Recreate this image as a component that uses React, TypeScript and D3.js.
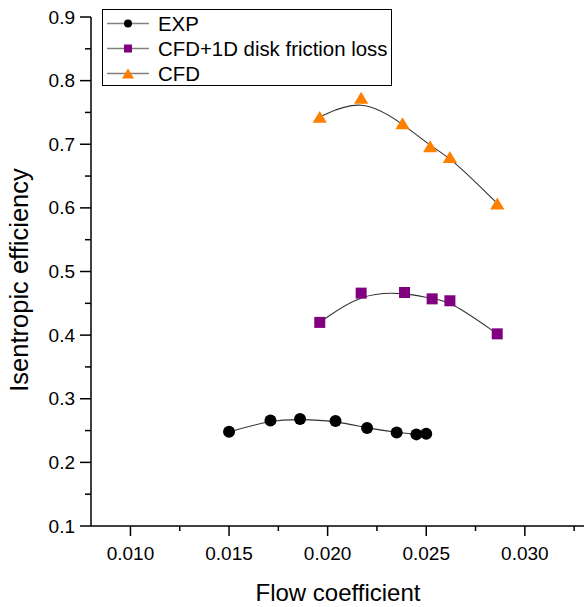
import React, { useEffect, useRef } from 'react';
import * as d3 from 'd3';

// flow coefficient / isentropic efficiency
const expFlow = [0.0150, 0.0171, 0.0186, 0.0204, 0.0220, 0.0235, 0.0245, 0.0250];
const expEff = [0.248, 0.266, 0.268, 0.265, 0.254, 0.247, 0.244, 0.245];
const cfdDiskFlow = [0.0196, 0.0217, 0.0239, 0.0253, 0.0262, 0.0286];
const cfdDiskEff = [0.420, 0.466, 0.467, 0.457, 0.454, 0.402];
const cfdFlow = [0.0196, 0.0217, 0.0238, 0.0252, 0.0262, 0.0286];
const cfdEff = [0.743, 0.773, 0.733, 0.697, 0.680, 0.607];

const seriesNames = ['EXP', 'CFD+1D disk friction loss', 'CFD'];
const xTicks = [0.010, 0.015, 0.020, 0.025, 0.030];
const yTicks = [0.1, 0.2, 0.3, 0.4, 0.5, 0.6, 0.7, 0.8, 0.9];

const W = 584;
const H = 607;
const FONT = "'Liberation Sans', Arial, sans-serif";

export default function App() {
  const svgRef = useRef<SVGSVGElement>(null);

  useEffect(() => {
    const svg = d3.select(svgRef.current);
    svg.selectAll('*').remove();

    const x = d3.scaleLinear().domain([0.008, 0.033]).range([91, 584]);
    const y = d3.scaleLinear().domain([0.1, 0.9]).range([526, 17]);

    const series = [
      { name: seriesNames[0], xs: expFlow, ys: expEff, shape: 'circle', color: '#000000' },
      { name: seriesNames[1], xs: cfdDiskFlow, ys: cfdDiskEff, shape: 'square', color: '#800080' },
      { name: seriesNames[2], xs: cfdFlow, ys: cfdEff, shape: 'triangle', color: '#FF8000' },
    ];

    function marker(g, shape, color, cx, cy, s) {
      if (shape === 'circle') {
        g.append('circle').attr('cx', cx).attr('cy', cy).attr('r', s / 2).attr('fill', color);
      } else if (shape === 'square') {
        g.append('rect').attr('x', cx - s / 2).attr('y', cy - s / 2)
          .attr('width', s).attr('height', s).attr('fill', color);
      } else {
        const hw = s * 0.55, hh = s * 0.46;
        g.append('path')
          .attr('d', `M${cx},${cy - hh}L${cx + hw},${cy + hh}L${cx - hw},${cy + hh}Z`)
          .attr('fill', color);
      }
    }

    // axes
    const xAxis = svg.append('g').attr('transform', `translate(0,${y(0.1)})`);
    xAxis.append('line').attr('x1', x(0.008)).attr('x2', x(0.033)).attr('stroke', '#000').attr('stroke-width', 1.5);
    xAxis.selectAll('.major').data(xTicks).join('line')
      .attr('x1', d => x(d)).attr('x2', d => x(d)).attr('y1', 0).attr('y2', 10)
      .attr('stroke', '#000').attr('stroke-width', 1.5);
    xAxis.selectAll('.minor').data(xTicks.map(d => d + 0.0025).filter(d => d < 0.033)).join('line')
      .attr('x1', d => x(d)).attr('x2', d => x(d)).attr('y1', 0).attr('y2', 5)
      .attr('stroke', '#000').attr('stroke-width', 1.5);
    xAxis.selectAll('text').data(xTicks).join('text')
      .attr('x', d => x(d)).attr('y', 34)
      .attr('text-anchor', 'middle')
      .style('font-family', FONT).style('font-size', '19px')
      .text(d => d3.format('.3f')(d));

    const yAxis = svg.append('g').attr('transform', `translate(${x(0.008)},0)`);
    yAxis.append('line').attr('y1', y(0.1)).attr('y2', y(0.9)).attr('stroke', '#000').attr('stroke-width', 1.5);
    yAxis.selectAll('.major').data(yTicks).join('line')
      .attr('y1', d => y(d)).attr('y2', d => y(d)).attr('x1', 0).attr('x2', -11)
      .attr('stroke', '#000').attr('stroke-width', 1.5);
    yAxis.selectAll('.minor').data(yTicks.slice(0, -1).map(d => d + 0.05)).join('line')
      .attr('y1', d => y(d)).attr('y2', d => y(d)).attr('x1', 0).attr('x2', -6)
      .attr('stroke', '#000').attr('stroke-width', 1.5);
    yAxis.selectAll('text').data(yTicks).join('text')
      .attr('x', -16).attr('y', d => y(d))
      .attr('text-anchor', 'end').attr('dominant-baseline', 'central')
      .style('font-family', FONT).style('font-size', '19px')
      .text(d => d3.format('.1f')(d));

    // axis titles
    svg.append('text')
      .attr('x', 338).attr('y', 601)
      .attr('text-anchor', 'middle')
      .style('font-family', FONT).style('font-size', '24px')
      .text('Flow coefficient');
    svg.append('text')
      .attr('transform', `translate(28,280) rotate(-90)`)
      .attr('text-anchor', 'middle')
      .style('font-family', FONT).style('font-size', '25.5px')
      .text('Isentropic efficiency');

    // smoothed curves + markers
    const line = d3.line().curve(d3.curveBasis);
    series.forEach(s => {
      const pts = s.xs.map((v, i) => [x(v), y(s.ys[i])]);
      svg.append('path').attr('d', line(pts)).attr('fill', 'none')
        .attr('stroke', '#333').attr('stroke-width', 1.1);
      const g = svg.append('g');
      pts.forEach(p => marker(g, s.shape, s.color, p[0], p[1], s.shape === 'triangle' ? 13 : s.shape === 'square' ? 11 : 12));
    });

    // legend
    const lg = svg.append('g');
    lg.append('rect').attr('x', 102.5).attr('y', 9.5).attr('width', 289).attr('height', 76)
      .attr('fill', '#fff').attr('stroke', '#000').attr('stroke-width', 1);
    series.forEach((s, i) => {
      const cy = 23.5 + i * 25;
      lg.append('line').attr('x1', 107).attr('x2', 149).attr('y1', cy).attr('y2', cy)
        .attr('stroke', '#808080').attr('stroke-width', 1.5);
      marker(lg, s.shape, s.color, 128, cy, s.shape === 'triangle' ? 11 : 8);
      lg.append('text').attr('x', 158).attr('y', cy).attr('dominant-baseline', 'central')
        .style('font-family', FONT).style('font-size', '20.4px')
        .text(s.name);
    });
  }, []);

  return (
    <svg ref={svgRef} width={W} height={H}
      style={{ position: 'absolute', left: 0, top: 0, background: '#fff' }} />
  );
}
